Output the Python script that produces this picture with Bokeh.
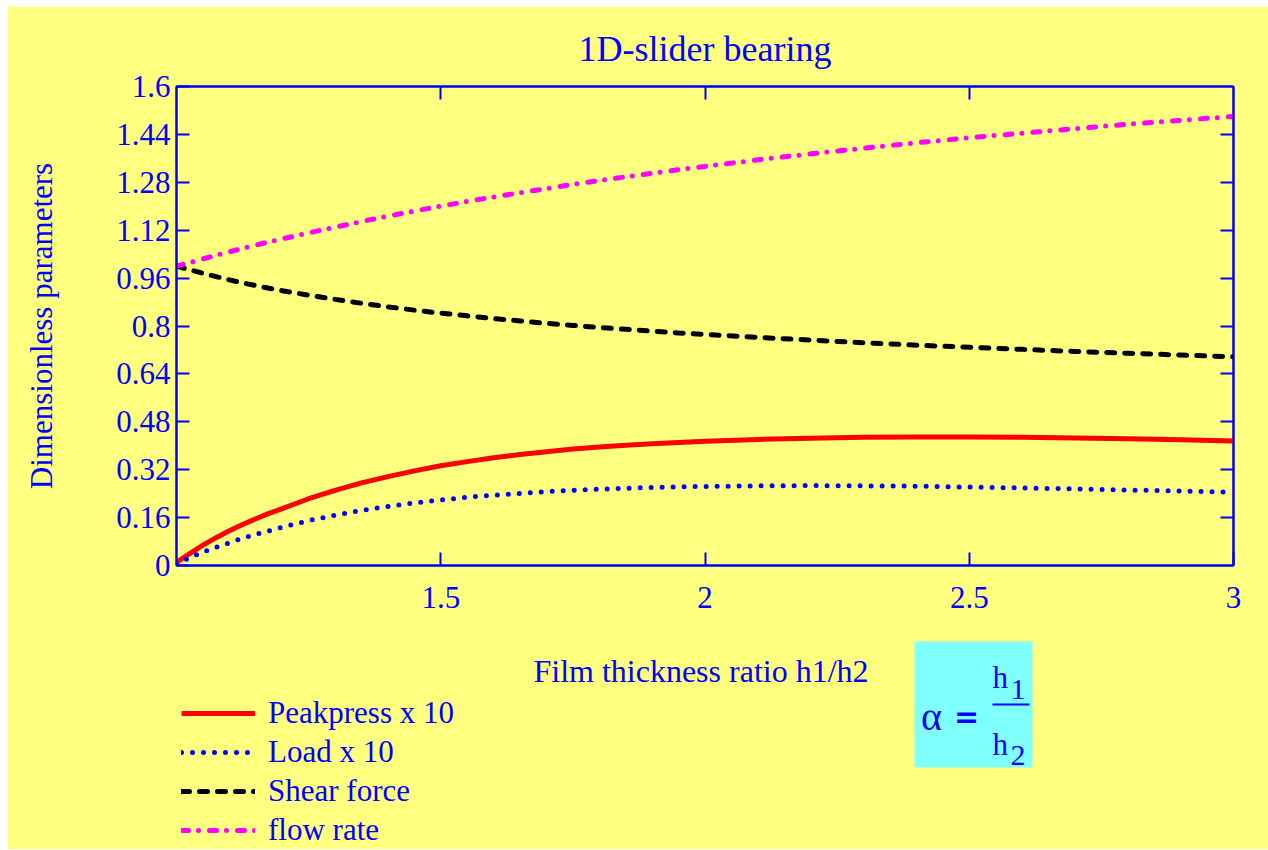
from bokeh.plotting import figure
from bokeh.layouts import column
from bokeh.models import (LinearAxis, FixedTicker, Range1d, Legend, LegendItem,
                          Label, BoxAnnotation, ColumnDataSource)
from bokeh.embed import file_html
from bokeh.resources import INLINE

# ---- data ----
alpha = [1.0, 1.025, 1.05, 1.075, 1.1, 1.125, 1.15, 1.175, 1.2, 1.25, 1.3,
         1.35, 1.4, 1.45, 1.5, 1.55, 1.6, 1.65, 1.7, 1.75, 1.8, 1.85, 1.9,
         1.95, 2.0, 2.1, 2.2, 2.3, 2.4, 2.5, 2.6, 2.7, 2.8, 2.9, 3.0]
peakpress_x10 = [0.010, 0.040, 0.068, 0.093, 0.116, 0.137, 0.156, 0.174, 0.190,
                 0.223, 0.251, 0.276, 0.297, 0.316, 0.333, 0.347, 0.360, 0.371,
                 0.380, 0.389, 0.396, 0.402, 0.407, 0.411, 0.415,
                 0.421, 0.425, 0.428, 0.429, 0.429, 0.428, 0.426, 0.423, 0.420,
                 0.416]
load_x10 = [0.005, 0.026, 0.045, 0.061, 0.076, 0.091, 0.104, 0.116, 0.128,
            0.150, 0.168, 0.184, 0.197, 0.209, 0.219, 0.228, 0.235, 0.241,
            0.247, 0.251, 0.255, 0.258, 0.261, 0.263, 0.264,
            0.266, 0.267, 0.266, 0.265, 0.262, 0.259, 0.256, 0.252, 0.249,
            0.245]
shear_force = [1.000, 0.988, 0.976, 0.965, 0.954, 0.944, 0.935, 0.926, 0.918,
               0.903, 0.889, 0.876, 0.864, 0.853, 0.843, 0.834, 0.825, 0.817,
               0.809, 0.802, 0.795, 0.789, 0.783, 0.777, 0.772,
               0.762, 0.753, 0.744, 0.736, 0.729, 0.722, 0.715, 0.709, 0.703,
               0.697]
flow_rate = [1.000, 1.012, 1.024, 1.036, 1.048, 1.059, 1.070, 1.081, 1.091,
             1.111, 1.130, 1.149, 1.167, 1.184, 1.200, 1.216, 1.231, 1.245,
             1.259, 1.273, 1.286, 1.298, 1.310, 1.322, 1.333,
             1.355, 1.375, 1.394, 1.412, 1.429, 1.444, 1.459, 1.474, 1.487,
             1.500]

series_names = ["Peakpress x 10", "Load x 10", "Shear force", "flow rate"]
series_cols = ["pk", "ld", "sh", "fl"]
x_ticks = [1.5, 2.0, 2.5, 3.0]
x_tick_labels = ["1.5", "2", "2.5", "3"]
y_ticks = [0.0, 0.16, 0.32, 0.48, 0.64, 0.8, 0.96, 1.12, 1.28, 1.44, 1.6]
y_tick_labels = ["0", "0.16", "0.32", "0.48", "0.64", "0.8", "0.96", "1.12",
                 "1.28", "1.44", "1.6"]

title_text = "1D-slider bearing"
x_label = "Film thickness ratio h1/h2"
y_label = "Dimensionless parameters"

# ---- style ----
BG = "#FFFF80"
BLUE = "#0000FF"
CYAN = "#80FFFF"
FONT = "Liberation Serif"
FS = "31px"
STYLES = [
    dict(line_color="#FF0000", line_width=5),
    dict(line_color=BLUE, line_width=5, line_dash="0 11", line_cap="round"),
    dict(line_color="#000000", line_width=5, line_dash="8 10", line_cap="round"),
    dict(line_color="#FF00FF", line_width=5, line_dash="7 10 0 11", line_cap="round"),
]

src = ColumnDataSource(dict(a=alpha, pk=peakpress_x10, ld=load_x10,
                            sh=shear_force, fl=flow_rate))

# ================= main plot =================
p = figure(frame_width=1057, frame_height=479,
           output_backend="svg", toolbar_location=None,
           x_range=Range1d(1, 3), y_range=Range1d(0, 1.6),
           x_axis_location=None, y_axis_location=None,
           min_border_left=168, min_border_right=35,
           min_border_top=79, min_border_bottom=71)
p.background_fill_color = None
p.border_fill_color = BG
p.outline_line_color = BLUE
p.outline_line_width = 2
p.xgrid.visible = False
p.ygrid.visible = False

p.title.text = title_text
p.title.align = "center"
p.title.text_color = BLUE
p.title.text_font = FONT
p.title.text_font_size = "36px"
p.title.text_font_style = "normal"
p.title.standoff = 36


def style_axis(ax):
    ax.axis_line_color = BLUE
    ax.axis_line_width = 2
    ax.major_tick_line_color = BLUE
    ax.major_tick_line_width = 2
    ax.major_tick_in = 13
    ax.major_tick_out = 0
    ax.minor_tick_line_color = None
    ax.major_label_text_color = BLUE
    ax.major_label_text_font = FONT
    ax.major_label_text_font_size = FS
    ax.axis_label_text_color = BLUE
    ax.axis_label_text_font = FONT
    ax.axis_label_text_font_size = FS
    ax.axis_label_text_font_style = "normal"


bottom = LinearAxis(ticker=FixedTicker(ticks=x_ticks),
                    major_label_overrides=dict(zip(x_ticks, x_tick_labels)))
style_axis(bottom)
bottom.major_label_standoff = 21
p.add_layout(bottom, "below")

left = LinearAxis(ticker=FixedTicker(ticks=y_ticks),
                  major_label_overrides=dict(zip(y_ticks, y_tick_labels)),
                  axis_label=y_label)
style_axis(left)
left.major_label_standoff = 6
left.axis_label_standoff = 54
p.add_layout(left, "left")

top = LinearAxis(ticker=FixedTicker(ticks=x_ticks[:-1]),
                 major_label_overrides={t: "" for t in x_ticks[:-1]})
style_axis(top)
top.major_label_standoff = 0
p.add_layout(top, "above")

right = LinearAxis(ticker=FixedTicker(ticks=y_ticks[1:-1]),
                   major_label_overrides={t: "" for t in y_ticks[1:-1]})
style_axis(right)
right.major_label_standoff = 0
p.add_layout(right, "right")

for col, st in zip(series_cols, STYLES):
    p.line("a", col, source=src, **st)

# ================= lower strip: axis title, legend, formula =================
# (its frame is aligned with the main frame by the column layout;
#  its ranges are set so the series themselves fall outside it)
q = figure(width=1260, height=213, output_backend="svg", toolbar_location=None,
           x_range=Range1d(-2, -1), y_range=Range1d(-2, -1),
           x_axis_location=None, y_axis_location=None, min_border=0)
q.background_fill_color = None
q.border_fill_color = BG
q.outline_line_color = None
q.xgrid.visible = False
q.ygrid.visible = False

proxies = [q.line("a", col, source=src, **st) for col, st in zip(series_cols, STYLES)]
legend = Legend(items=[LegendItem(label=n, renderers=[r])
                       for n, r in zip(series_names, proxies)],
                location=(5, 0), orientation="vertical",
                glyph_width=74, glyph_height=38, label_height=38, spacing=1,
                padding=0, margin=0, label_standoff=13,
                label_text_font=FONT, label_text_font_size=FS,
                label_text_color=BLUE, background_fill_alpha=0,
                border_line_color=None)
q.add_layout(legend, "center")


def lab(x, y, t, size, style="normal", align="left", font=FONT):
    q.add_layout(Label(x=x, y=y, x_units="screen", y_units="screen", text=t,
                       text_align=align, text_baseline="alphabetic",
                       text_color=BLUE, text_font=font, text_font_size=size,
                       text_font_style=style))


lab(524.5, 179, x_label, "32px", align="center")

q.add_layout(BoxAnnotation(left=738, right=856, top=208, bottom=82,
                           left_units="screen", right_units="screen",
                           top_units="screen", bottom_units="screen",
                           fill_color=CYAN, fill_alpha=1, line_color=None))
q.add_layout(BoxAnnotation(left=816, right=853, top=146, bottom=144,
                           left_units="screen", right_units="screen",
                           top_units="screen", bottom_units="screen",
                           fill_color=BLUE, fill_alpha=1, line_color=None))
lab(755, 133, "\u03b1", "40px", align="center")
lab(790, 133, "=", "30px", style="bold", align="center", font="DejaVu Sans")
lab(816, 172, "h", "31px")
lab(834, 160, "1", "30px")
lab(816, 105, "h", "31px")
lab(834, 94, "2", "30px")

layout = column(p, q, spacing=0, margin=(7, 0, 0, 8),
                styles={"background-color": BG})
open("out.html", "w").write(file_html(layout, INLINE))
